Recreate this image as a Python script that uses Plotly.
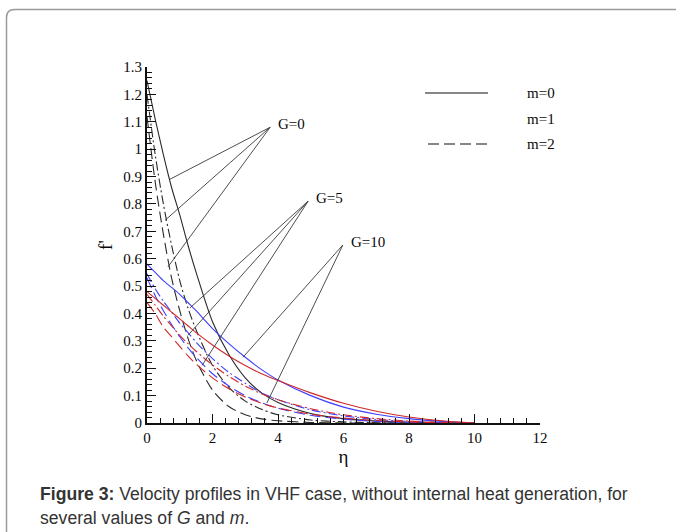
import plotly.graph_objects as go

W, H = 676, 532

# ---------------- data ----------------
eta = [0, 0.25, 0.5, 0.75, 1, 1.25, 1.5, 2, 2.5, 3, 3.5, 4, 5, 6, 7, 8, 9, 10]

# G = 0 (black)
g0_m0 = [1.25, 1.11, 0.98, 0.86, 0.76, 0.65, 0.55, 0.37, 0.25, 0.165, 0.11, 0.075, 0.035, 0.016, 0.007, 0.003, 0.001, 0]
g0_m1 = [1.20, 0.98, 0.80, 0.65, 0.52, 0.42, 0.34, 0.21, 0.13, 0.08, 0.05, 0.03, 0.011, 0.004, 0.001, 0, 0, 0]
g0_m2 = [1.12, 0.88, 0.69, 0.53, 0.41, 0.31, 0.23, 0.12, 0.06, 0.03, 0.015, 0.008, 0.002, 0, 0, 0, 0, 0]
# G = 5 (blue)
g5_m0 = [0.58, 0.55, 0.52, 0.495, 0.47, 0.44, 0.41, 0.345, 0.29, 0.24, 0.195, 0.157, 0.10, 0.058, 0.032, 0.016, 0.006, 0]
g5_m1 = [0.545, 0.49, 0.445, 0.405, 0.365, 0.33, 0.295, 0.235, 0.185, 0.145, 0.11, 0.085, 0.048, 0.026, 0.013, 0.006, 0.002, 0]
g5_m2 = [0.53, 0.465, 0.41, 0.36, 0.315, 0.275, 0.24, 0.18, 0.135, 0.10, 0.074, 0.054, 0.028, 0.014, 0.006, 0.002, 0, 0]
# G = 10 (red)
g10_m0 = [0.48, 0.455, 0.43, 0.405, 0.38, 0.355, 0.33, 0.285, 0.245, 0.21, 0.18, 0.155, 0.11, 0.072, 0.043, 0.022, 0.008, 0]
g10_m1 = [0.47, 0.43, 0.39, 0.355, 0.32, 0.29, 0.262, 0.212, 0.17, 0.135, 0.107, 0.085, 0.052, 0.03, 0.016, 0.007, 0.002, 0]
g10_m2 = [0.44, 0.40, 0.35, 0.315, 0.28, 0.245, 0.215, 0.165, 0.125, 0.095, 0.072, 0.055, 0.032, 0.018, 0.009, 0.004, 0.001, 0]

# leader annotations: label, apex (eta, f'), targets
g_labels = ["G=0", "G=5", "G=10"]
g_apex = [(3.76, 1.08), (4.92, 0.81), (5.98, 0.65)]
g_targets = [
    [(0.70, 0.89), (0.55, 0.74), (0.64, 0.57)],
    [(1.31, 0.42), (1.25, 0.32), (1.68, 0.21)],
    [(2.93, 0.24), (3.66, 0.073)],
]

legend_labels = ["m=0", "m=1", "m=2"]
x_ticks = [0, 2, 4, 6, 8, 10, 12]
y_ticks = [0, 0.1, 0.2, 0.3, 0.4, 0.5, 0.6, 0.7, 0.8, 0.9, 1, 1.1, 1.2, 1.3]
y_ticklabels = ["0", "0.1", "0.2", "0.3", "0.4", "0.5", "0.6", "0.7", "0.8", "0.9", "1", "1.1", "1.2", "1.3"]

# ---------------- styles ----------------
BLACK = "#2a2a2a"
BLUE = "#3f3fff"
RED = "#d02828"
DASH = {0: "solid", 1: "9px,3px,2px,3px", 2: "11px,5px"}
SERIF = "Liberation Serif"
TXT = "#0a0a0a"


def px(x):
    return x / W


def py(y):
    return 1 - y / H


fig = go.Figure()

series = [
    (g0_m0, BLACK, 0), (g0_m1, BLACK, 1), (g0_m2, BLACK, 2),
    (g5_m0, BLUE, 0), (g5_m1, BLUE, 1), (g5_m2, BLUE, 2),
    (g10_m0, RED, 0), (g10_m1, RED, 1), (g10_m2, RED, 2),
]
for ys, col, m in series:
    fig.add_trace(go.Scatter(
        x=eta, y=ys, mode="lines",
        line=dict(color=col, width=1.1, dash=DASH[m], shape="spline", smoothing=0.8),
        showlegend=False, hoverinfo="skip",
    ))

shapes = []
annotations = []

# leader lines + labels
for lab, (ax, ay), tg in zip(g_labels, g_apex, g_targets):
    for tx, ty in tg:
        shapes.append(dict(type="line", xref="x", yref="y", x0=ax, y0=ay, x1=tx, y1=ty,
                           line=dict(color="#3a3a3a", width=0.9)))
    annotations.append(dict(x=ax + 0.18, y=ay + 0.012, xref="x", yref="y", text=lab,
                            showarrow=False, xanchor="left", yanchor="middle",
                            font=dict(family=SERIF, size=15, color=TXT)))

# manual legend
leg_rows = [(93, 425, 488, 0), (119, None, None, 1), (144, 428, 492, 2)]
for (yy, x0, x1, m), lab in zip(leg_rows, legend_labels):
    if x0 is not None:
        shapes.append(dict(type="line", xref="paper", yref="paper",
                           x0=px(x0), x1=px(x1), y0=py(yy), y1=py(yy),
                           line=dict(color="#111", width=1.1, dash=DASH[m])))
    annotations.append(dict(x=px(525), y=py(yy), xref="paper", yref="paper", text=lab,
                            showarrow=False, xanchor="left", yanchor="middle",
                            font=dict(family=SERIF, size=15, color=TXT)))

# caption
annotations.append(dict(x=px(37.5), y=py(494), xref="paper", yref="paper",
                        text="<b>Figure 3:</b> Velocity profiles in VHF case, without internal heat generation, for",
                        showarrow=False, xanchor="left", yanchor="middle",
                        font=dict(family="Liberation Sans", size=17.6, color="#333")))
annotations.append(dict(x=px(37.5), y=py(518), xref="paper", yref="paper",
                        text="several values of <i>G</i> and <i>m</i>.",
                        showarrow=False, xanchor="left", yanchor="middle",
                        font=dict(family="Liberation Sans", size=17.6, color="#333")))

# card border (rounded top-left corner)
r = 8
path = (f"M {px(6.5)},{py(560)} L {px(6.5)},{py(9.5 + r)} "
        f"Q {px(6.5)},{py(9.5)} {px(6.5 + r)},{py(9.5)} L {px(700)},{py(9.5)}")
shapes.append(dict(type="path", xref="paper", yref="paper", path=path,
                   line=dict(color="#9a9a9a", width=1.5)))

fig.update_layout(
    width=W, height=H,
    margin=dict(l=0, r=0, t=0, b=0, pad=0),
    paper_bgcolor="white", plot_bgcolor="white",
    shapes=shapes, annotations=annotations,
    xaxis=dict(
        domain=[px(147), px(540)], range=[0, 12], automargin=False,
        tickvals=x_ticks, ticktext=[str(v) for v in x_ticks],
        ticks="inside", ticklen=9, tickwidth=1.3, tickcolor="#111",
        minor=dict(dtick=0.4, tick0=0, ticks="inside", ticklen=5, tickwidth=1, tickcolor="#111", showgrid=False),
        showline=True, linecolor="#111", linewidth=1.8,
        showgrid=False, zeroline=False,
        tickfont=dict(family=SERIF, size=15, color=TXT),
        title=dict(text="η", font=dict(family=SERIF, size=19, color=TXT), standoff=2),
        anchor="y",
    ),
    yaxis=dict(
        domain=[py(423), py(67)], range=[0, 1.3], automargin=False,
        tickvals=y_ticks, ticktext=y_ticklabels,
        ticks="inside", ticklen=9, tickwidth=1.3, tickcolor="#111",
        minor=dict(dtick=0.02, tick0=0, ticks="inside", ticklen=5, tickwidth=1, tickcolor="#111", showgrid=False),
        showline=True, linecolor="#111", linewidth=1.8,
        showgrid=False, zeroline=False,
        tickfont=dict(family=SERIF, size=15, color=TXT),
        title=dict(text="f'", font=dict(family=SERIF, size=19, color=TXT), standoff=6),
        anchor="x",
    ),
)

fig.write_html("out.html", config={"displayModeBar": False},
               post_script="document.body.style.margin='0';")
